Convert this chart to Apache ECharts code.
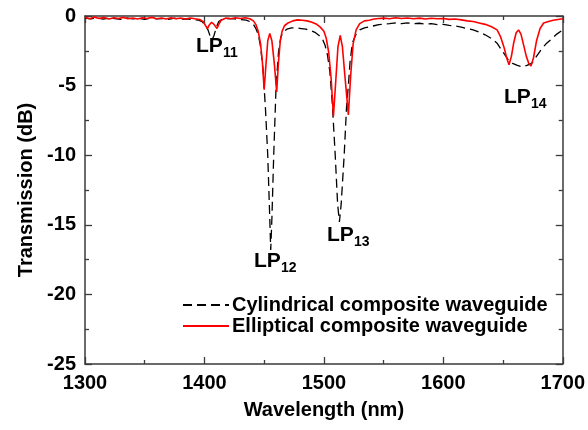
<!DOCTYPE html>
<html><head><meta charset="utf-8">
<script src="https://cdn.jsdelivr.net/npm/echarts@6/dist/echarts.min.js"></script>
<style>html,body{margin:0;padding:0;background:#fff}#c{width:588px;height:430px}</style>
</head><body><div id="c"></div>
<script>
// Wavelength (nm), transmission (dB)
var cylWl = [1300,1305,1310,1315,1320,1325,1330,1335,1340,1345,1350,1355,1360,1365,1370,1375,1380,1385,1390,1395,1398,1401,1403,1405,1406.5,1408,1410,1412,1415,1420,1425,1430,1435,1438,1441,1443,1445,1447,1449,1451,1453,1454.5,1455.5,1456.5,1458,1460,1462,1464,1466,1469,1473,1477,1481,1485,1489,1493,1496,1499,1501,1503,1505,1507,1509.5,1511.5,1513,1514.5,1517,1519,1520.5,1522,1524,1527,1530,1534,1538,1542,1546,1550,1555,1560,1565,1570,1575,1580,1585,1590,1595,1600,1605,1610,1615,1620,1625,1630,1635,1640,1645,1650,1654,1658,1662,1666,1670,1674,1678,1682,1686,1690,1695,1700];
var cylDb = [-0.15,-0.2,-0.12,-0.22,-0.15,-0.18,-0.25,-0.14,-0.2,-0.17,-0.24,-0.15,-0.2,-0.18,-0.25,-0.16,-0.22,-0.2,-0.25,-0.3,-0.4,-0.7,-1.0,-1.5,-1.7,-1.4,-0.8,-0.4,-0.22,-0.18,-0.2,-0.25,-0.3,-0.4,-0.6,-0.9,-1.3,-2.2,-3.8,-6.5,-10.0,-14.0,-16.8,-14.5,-10.0,-5.0,-2.6,-1.5,-1.15,-0.95,-0.85,-0.85,-0.9,-0.95,-1.05,-1.2,-1.4,-1.7,-2.1,-2.8,-4.0,-6.2,-10.0,-13.5,-14.8,-13.5,-10.0,-6.5,-5.0,-3.2,-1.9,-1.3,-1.0,-0.85,-0.78,-0.7,-0.62,-0.58,-0.55,-0.5,-0.55,-0.5,-0.55,-0.52,-0.58,-0.55,-0.62,-0.6,-0.68,-0.72,-0.8,-0.9,-1.0,-1.15,-1.35,-1.6,-1.95,-2.6,-3.1,-3.4,-3.55,-3.65,-3.55,-3.4,-2.9,-2.4,-2.0,-1.7,-1.3,-1.0];
var ellWl = [1300,1304,1308,1312,1316,1320,1324,1328,1332,1336,1340,1344,1348,1352,1356,1360,1364,1368,1372,1376,1380,1384,1388,1392,1396,1399,1401,1402.5,1404,1406,1408,1410.5,1412,1414,1418,1422,1426,1430,1434,1438,1441,1443,1445,1447,1448.5,1450,1451.5,1453,1454.7,1456.5,1458.5,1460.5,1462,1463.5,1465,1467,1470,1474,1478,1482,1486,1490,1494,1497,1500,1502,1504,1506,1508,1510,1511.8,1513.7,1515.5,1517.5,1520.5,1522.5,1524.5,1527,1530,1534,1538,1542,1546,1550,1555,1560,1565,1570,1575,1580,1585,1590,1595,1600,1605,1610,1615,1620,1625,1630,1635,1640,1645,1648,1651,1653,1655,1657,1659,1661,1663,1665,1667,1669.5,1671.5,1673.4,1675.5,1678,1681,1684,1688,1692,1696,1700];
var ellDb = [-0.1,-0.2,-0.08,-0.18,-0.1,-0.22,-0.12,-0.18,-0.1,-0.2,-0.14,-0.22,-0.12,-0.18,-0.1,-0.2,-0.14,-0.22,-0.12,-0.2,-0.15,-0.22,-0.14,-0.2,-0.25,-0.4,-0.7,-0.9,-0.65,-0.45,-0.6,-0.9,-0.6,-0.3,-0.15,-0.2,-0.12,-0.18,-0.12,-0.2,-0.35,-0.6,-1.1,-2.0,-3.3,-5.3,-3.5,-1.8,-1.25,-1.8,-3.4,-5.45,-3.3,-1.8,-1.1,-0.7,-0.5,-0.35,-0.28,-0.3,-0.35,-0.45,-0.6,-0.8,-1.1,-1.6,-2.6,-4.4,-7.2,-4.6,-2.2,-1.4,-2.2,-4.2,-7.1,-4.2,-2.0,-1.0,-0.55,-0.35,-0.3,-0.22,-0.18,-0.15,-0.2,-0.12,-0.18,-0.14,-0.2,-0.15,-0.22,-0.16,-0.2,-0.18,-0.24,-0.22,-0.28,-0.35,-0.4,-0.5,-0.6,-0.75,-1.0,-1.5,-2.3,-3.0,-3.5,-2.9,-1.9,-1.2,-1.0,-1.3,-2.0,-2.9,-3.4,-3.6,-3.0,-1.8,-0.9,-0.5,-0.4,-0.3,-0.25,-0.2];
var xTicks = [1300,1400,1500,1600,1700];
var yTicks = [0,-5,-10,-15,-20,-25];
var seriesNames = ['Cylindrical composite waveguide','Elliptical composite waveguide'];

function pairs(xs, ys){ return xs.map(function(x,i){ return [x, ys[i]]; }); }

var FONT = '"Liberation Sans", Arial, sans-serif';
var axisColor = '#3a3a3a';
var chart = echarts.init(document.getElementById('c'), null, {renderer:'canvas'});

function xAxisDef(pos, show){
  return {
    type:'value', position:pos, min:xTicks[0], max:xTicks[xTicks.length-1], interval:100,
    axisLine:{show:true, onZero:false, lineStyle:{color:axisColor, width:1.5}},
    axisTick:{show:true, inside:true, length:7, lineStyle:{color:axisColor, width:1.3}},
    minorTick:{show:true, splitNumber:2, length:4, lineStyle:{color:axisColor, width:1.3}},
    splitLine:{show:false},
    axisLabel:{show:show, margin:9, color:'#000', fontFamily:FONT, fontWeight:'bold', fontSize:20,
      formatter:function(v){ return String(v); }},
    name: show ? 'Wavelength (nm)' : '', nameLocation:'middle', nameGap:36,
    nameTextStyle:{color:'#000', fontFamily:FONT, fontWeight:'bold', fontSize:20}
  };
}
function yAxisDef(pos, show){
  return {
    type:'value', position:pos, min:yTicks[yTicks.length-1], max:yTicks[0], interval:5,
    axisLine:{show:true, onZero:false, lineStyle:{color:axisColor, width:1.5}},
    axisTick:{show:true, inside:true, length:7, lineStyle:{color:axisColor, width:1.3}},
    minorTick:{show:true, splitNumber:2, length:4, lineStyle:{color:axisColor, width:1.3}},
    splitLine:{show:false},
    axisLabel:{show:show, margin:9, color:'#000', fontFamily:FONT, fontWeight:'bold', fontSize:20},
    name: show ? 'Transmission (dB)' : '', nameLocation:'middle', nameGap:45,
    nameTextStyle:{color:'#000', fontFamily:FONT, fontWeight:'bold', fontSize:20}
  };
}

function lp(x, y, sub){
  return [
    {type:'text', left:x, top:y, style:{text:'LP', font:'bold 21px ' + FONT, fill:'#000'}},
    {type:'text', left:x+27, top:y+10, style:{text:sub, font:'bold 14px ' + FONT, fill:'#000'}}
  ];
}

var option = {
  animation:false,
  backgroundColor:'#fff',
  grid:{left:85, right:22, top:16, bottom:66, containLabel:false},
  xAxis:[xAxisDef('bottom', true), xAxisDef('top', false)],
  yAxis:[yAxisDef('left', true), yAxisDef('right', false)],
  legend:{
    orient:'vertical', left:177, top:290, itemWidth:46, itemHeight:14, itemGap:1,
    data:seriesNames,
    itemStyle:{opacity:0},
    textStyle:{color:'#000', fontFamily:FONT, fontWeight:'bold', fontSize:20, lineHeight:20, padding:[0,0,0,-2]}
  },
  series:[
    {name:seriesNames[0], type:'line', xAxisIndex:0, yAxisIndex:0, data:pairs(cylWl, cylDb),
     symbol:'none', smooth:false, lineStyle:{color:'#000', width:1.3, type:[9,5]}, itemStyle:{color:'#000'}},
    {name:seriesNames[1], type:'line', xAxisIndex:0, yAxisIndex:0, data:pairs(ellWl, ellDb),
     symbol:'none', smooth:false, lineStyle:{color:'#ff0000', width:1.6}, itemStyle:{color:'#ff0000'}}
  ],
  graphic: [].concat(lp(196,36,'11'), lp(254,251,'12'), lp(327,225,'13'), lp(504,87,'14'))
};
chart.setOption(option);
</script></body></html>
